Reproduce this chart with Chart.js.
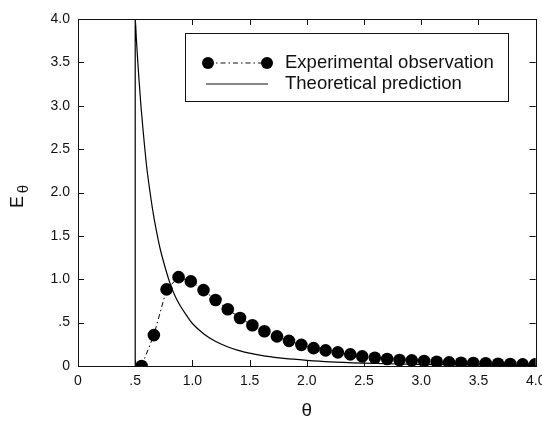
<!DOCTYPE html>
<html><head><meta charset="utf-8">
<script src="https://cdn.jsdelivr.net/npm/chart.js@4"></script>
<style>html,body{margin:0;padding:0;background:#fff}#wrap{width:542px;height:429px}</style>
</head><body><div id="wrap"><canvas id="c" width="542" height="429"></canvas></div>
<script>
// Experimental observation
const expTheta = [0.556,0.663,0.774,0.879,0.986,1.097,1.202,1.309,1.416,1.524,1.629,1.739,1.844,1.952,2.059,2.164,2.271,2.380,2.484,2.594,2.702,2.810,2.917,3.025,3.135,3.243,3.348,3.455,3.563,3.671,3.778,3.886,3.994];
const expE = [0.0,0.356,0.883,1.024,0.975,0.875,0.760,0.654,0.554,0.470,0.401,0.341,0.290,0.244,0.206,0.180,0.157,0.134,0.111,0.095,0.080,0.069,0.065,0.057,0.049,0.042,0.038,0.034,0.031,0.026,0.023,0.019,0.019];
// Theoretical prediction (incl. the vertical jump at 0.5)
const theoTheta = [0.5,0.5,0.51,0.52,0.53,0.54,0.55,0.57,0.6,0.63,0.66,0.7,0.72,0.75,0.8,0.85,0.9,0.95,1.0,1.1,1.2,1.3,1.4,1.5,1.6,1.7,1.8,2.0,2.2,2.5,2.8,3.0,3.5,4.0];
const theoE = [0.0,4.0,3.77,3.56,3.36,3.18,3.0,2.7,2.3,2.0,1.74,1.46,1.34,1.19,0.97,0.8,0.68,0.58,0.49,0.37,0.285,0.225,0.18,0.148,0.122,0.103,0.087,0.065,0.048,0.033,0.023,0.019,0.012,0.008];
const xTickLabels = ['0','.5','1.0','1.5','2.0','2.5','3.0','3.5','4.0'];
const yTickLabels = ['0','.5','1.0','1.5','2.0','2.5','3.0','3.5','4.0'];
const seriesLabels = ['Experimental observation','Theoretical prediction'];
const xTitle = 'θ';
const yTitleMain = 'E';
const yTitleSub = 'θ';

const FONT = '"Liberation Sans", Arial, sans-serif';
const DASH = [5,3,1.5,3];

const framePlugin = {
  id: 'frame',
  afterDraw(chart) {
    const ctx = chart.ctx, a = chart.chartArea;
    const xs = chart.scales.x, ys = chart.scales.y;
    ctx.save();
    ctx.strokeStyle = '#111';
    ctx.lineWidth = 1;
    ctx.setLineDash([]);
    ctx.strokeRect(Math.round(a.left)+0.5, Math.round(a.top)+0.5, Math.round(a.right-a.left), Math.round(a.bottom-a.top));
    const tl = 6;
    ctx.beginPath();
    xs.ticks.forEach(t => {
      const p = Math.round(xs.getPixelForValue(t.value)) + 0.5;
      ctx.moveTo(p, a.bottom); ctx.lineTo(p, a.bottom - tl);
      ctx.moveTo(p, a.top); ctx.lineTo(p, a.top + tl);
    });
    ys.ticks.forEach(t => {
      const p = Math.round(ys.getPixelForValue(t.value)) + 0.5;
      ctx.moveTo(a.left, p); ctx.lineTo(a.left + tl, p);
      ctx.moveTo(a.right, p); ctx.lineTo(a.right - tl, p);
    });
    ctx.stroke();

    // legend
    ctx.fillStyle = '#fff';
    ctx.fillRect(185, 33, 324, 69);
    ctx.strokeStyle = '#111';
    ctx.strokeRect(185.5, 33.5, 323, 68);
    const y1 = 63, y2 = 84;
    ctx.beginPath();
    ctx.setLineDash(DASH);
    ctx.moveTo(208, y1); ctx.lineTo(267, y1);
    ctx.stroke();
    ctx.setLineDash([]);
    ctx.fillStyle = '#000';
    [208, 267].forEach(cx => { ctx.beginPath(); ctx.arc(cx, y1, 6, 0, Math.PI*2); ctx.fill(); });
    ctx.beginPath();
    ctx.lineWidth = 1.2;
    ctx.moveTo(206, y2); ctx.lineTo(268, y2);
    ctx.stroke();
    ctx.font = '18.5px ' + FONT;
    ctx.fillStyle = '#111';
    ctx.textAlign = 'left';
    ctx.textBaseline = 'middle';
    ctx.fillText(chart.data.datasets[0].label, 285, y1);
    ctx.fillText(chart.data.datasets[1].label, 285, y2);

    // y title E_theta
    ctx.translate(18, 198);
    ctx.rotate(-Math.PI/2);
    ctx.textAlign = 'center';
    ctx.font = '18px ' + FONT;
    ctx.fillText(yTitleMain, -4, 0);
    ctx.font = '15px ' + FONT;
    ctx.fillText(yTitleSub, 9, 6);
    ctx.restore();
  }
};

new Chart(document.getElementById('c'), {
  type: 'scatter',
  data: {
    datasets: [
      {
        label: seriesLabels[0],
        data: expTheta.map((x, i) => ({x, y: expE[i]})),
        showLine: true,
        borderColor: '#000',
        borderWidth: 1,
        borderDash: DASH,
        backgroundColor: '#000',
        pointRadius: 6.3,
        pointBorderWidth: 0,
        pointBackgroundColor: '#000',
        clip: 0,
        order: 1
      },
      {
        label: seriesLabels[1],
        data: theoTheta.map((x, i) => ({x, y: theoE[i]})),
        showLine: true,
        borderColor: '#000',
        borderWidth: 1.2,
        pointRadius: 0,
        cubicInterpolationMode: 'monotone',
        clip: 0,
        order: 2
      }
    ]
  },
  options: {
    responsive: false,
    animation: false,
    devicePixelRatio: 1,
    layout: { padding: { top: 19, right: 6, left: 0, bottom: 0 } },
    plugins: { legend: { display: false }, tooltip: { enabled: false } },
    scales: {
      x: {
        type: 'linear', min: 0, max: 4,
        grid: { display: true, drawOnChartArea: false, drawTicks: false },
        border: { display: false },
        ticks: {
          stepSize: 0.5, padding: 7, color: '#111',
          font: { family: FONT, size: 14 },
          maxRotation: 0, autoSkip: false,
          callback: v => xTickLabels[Math.round(v / 0.5)]
        },
        title: { display: true, text: xTitle, color: '#111', font: { family: FONT, size: 19 }, padding: { bottom: 7, top: 0 } },
        afterFit(s) { s.height = 63; s.paddingLeft = 0; s.paddingRight = 0; }
      },
      y: {
        type: 'linear', min: 0, max: 4,
        grid: { display: true, drawOnChartArea: false, drawTicks: false },
        border: { display: false },
        ticks: {
          stepSize: 0.5, padding: 8, color: '#111',
          font: { family: FONT, size: 14 },
          autoSkip: false,
          callback: v => yTickLabels[Math.round(v / 0.5)]
        },
        afterFit(s) { s.width = 78; s.paddingTop = 0; s.paddingBottom = 0; }
      }
    }
  },
  plugins: [framePlugin]
});
</script>
</body></html>
